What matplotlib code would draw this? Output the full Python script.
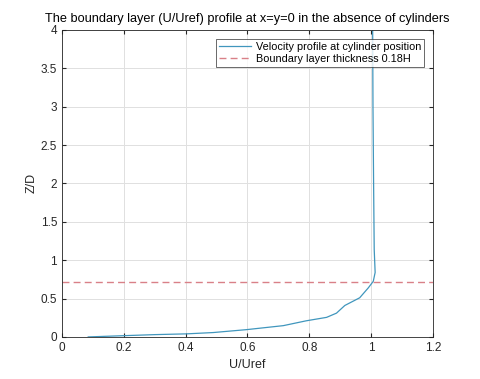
import matplotlib
matplotlib.use("Agg")
import matplotlib.pyplot as plt
import numpy as np

u_ratio = [0.085, 0.12, 0.198, 0.30, 0.403, 0.489, 0.597, 0.716, 0.79, 0.856, 0.888, 0.915, 0.963, 0.991, 1.007, 1.013, 1.01, 1.008, 1.006, 1.005]
z_over_d = [0.0, 0.005, 0.016, 0.03, 0.04, 0.057, 0.095, 0.147, 0.21, 0.255, 0.31, 0.41, 0.51, 0.64, 0.725, 0.84, 1.14, 2.0, 3.0, 4.0]
bl_thickness = 0.72

xticks = [0, 0.2, 0.4, 0.6, 0.8, 1, 1.2]
xticklabels = ["0", "0.2", "0.4", "0.6", "0.8", "1", "1.2"]
yticks = [0, 0.5, 1, 1.5, 2, 2.5, 3, 3.5, 4]
yticklabels = ["0", "0.5", "1", "1.5", "2", "2.5", "3", "3.5", "4"]

plt.rcParams['font.family'] = ['Liberation Sans', 'DejaVu Sans']

fig = plt.figure(figsize=(4.8, 3.79), dpi=100)
ax = fig.add_axes([0.129, 0.111, 0.773, 0.810])

ax.plot(u_ratio, z_over_d, color='#4096bd', lw=0.9, label='Velocity profile at cylinder position')
ax.axhline(bl_thickness, color='#d98088', lw=1.0, ls=(0, (5, 3)), label='Boundary layer thickness 0.18H')

ax.set_xlim(0, 1.2)
ax.set_ylim(0, 4)
ax.set_xticks(xticks)
ax.set_xticklabels(xticklabels)
ax.set_yticks(yticks)
ax.set_yticklabels(yticklabels)
ax.grid(True, color='#e0e0e0', lw=0.7)
ax.set_axisbelow(True)
ax.tick_params(direction='in', length=3, labelsize=8.5, colors='#262626', top=True, right=True,
               labeltop=False, labelright=False)
for s in ax.spines.values():
    s.set_color('#262626')
    s.set_linewidth(0.6)

ax.set_xlabel('U/Uref', fontsize=9, color='#262626', labelpad=4)
ax.set_ylabel('Z/D', fontsize=9, color='#262626', labelpad=2)
ax.set_title('The boundary layer (U/Uref) profile at x=y=0 in the absence of cylinders', fontsize=9.2, color='#000000', pad=6)

leg = ax.legend(loc='upper right', fontsize=7.8, frameon=True, fancybox=False, borderpad=0.3,
                handlelength=3.0, handletextpad=0.4, borderaxespad=0.8, labelspacing=0.2)
leg.get_frame().set_edgecolor('#262626')
leg.get_frame().set_linewidth(0.6)

fig.savefig('out.png', dpi=100)
